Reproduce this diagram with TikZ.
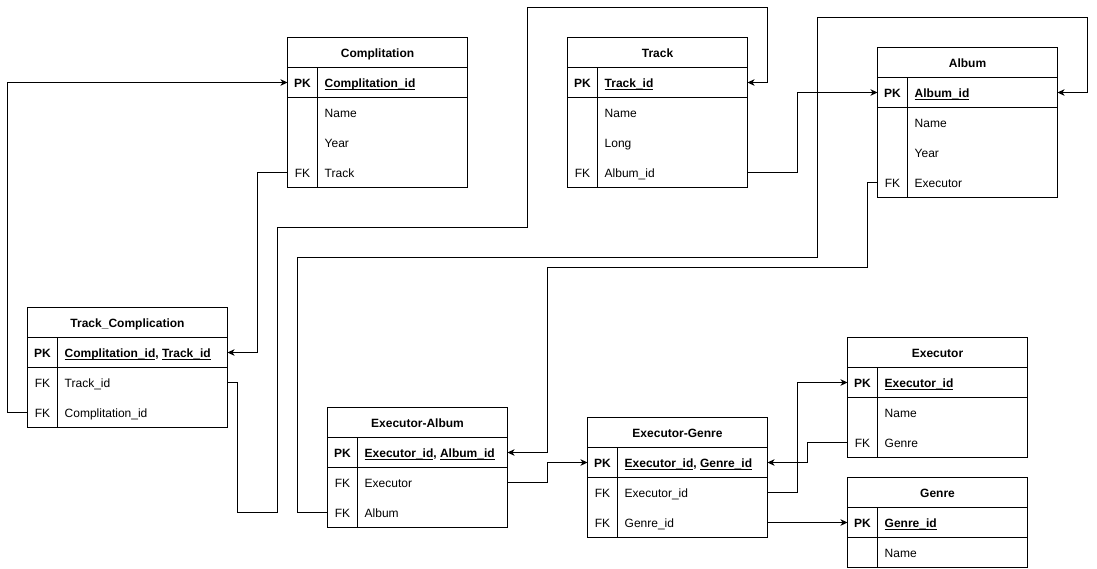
\documentclass[tikz,border=0pt]{standalone}
\usepackage{fontspec}
\setmainfont{Liberation Sans}
\usetikzlibrary{arrows.meta}
\newcommand\ulk[1]{\setbox0=\hbox{#1}\rlap{\rule[-2.2pt]{\wd0}{0.8pt}}\box0}
\tikzset{
  tbl/.style={draw, line width=1pt, fill=white},
  sep/.style={draw, line width=1pt},
  rowbox/.style={minimum height=30pt, inner sep=0pt, outer sep=0pt, anchor=north west},
  txt/.style={inner sep=0pt, text height=8.6pt, text depth=0pt, yshift=-0.8pt, font=\fontsize{12}{14}\selectfont},
  conn/.style={line width=1pt, -{Stealth[length=7pt,width=6.5pt,inset=2pt]}},
}
% #1 name, #2 x, #3 y, #4 width, #5 number of rows, #6 title, #7 rows key/field
\newcommand\ertable[7]{%
  \draw[tbl] (#2,#3) rectangle ++(#4,{30*(#5+1)});
  \node[rowbox, minimum width=#4pt] (#1-0) at (#2,#3) {};
  \node[txt] (#1-t) at (#1-0.center) {\bfseries #6};
  \draw[sep] (#2,{#3+30}) -- ++(#4,0);
  \draw[sep] (#2,{#3+60}) -- ++(#4,0);
  \draw[sep] ({#2+30},{#3+30}) -- ({#2+30},{#3+30*(#5+1)});
  \foreach[count=\i] \k/\f in {#7} {
    \node[rowbox, minimum width=#4pt] (#1-\i) at (#2,{#3+30*\i}) {};
    \node[txt] (#1-k\i) at ([xshift=15pt]#1-\i.west) {\k};
    \node[txt, anchor=west] (#1-f\i) at ([xshift=37pt]#1-\i.west) {\f};
  }
}
\begin{document}
\begin{tikzpicture}[x=1pt, y=-1pt]
\useasboundingbox (0,0) rectangle (1097,568);

\ertable{comp}{287.5}{37.5}{180}{4}{Complitation}{{\bfseries PK}/{\bfseries\ulk{Complitation\_id}}, /Name, /Year, FK/Track}
\ertable{track}{567.5}{37.5}{180}{4}{Track}{{\bfseries PK}/{\bfseries\ulk{Track\_id}}, /Name, /Long, FK/Album\_id}
\ertable{album}{877.5}{47.5}{180}{4}{Album}{{\bfseries PK}/{\bfseries\ulk{Album\_id}}, /Name, /Year, FK/Executor}
\ertable{tc}{27.5}{307.5}{200}{3}{Track\_Complication}{{\bfseries PK}/{\bfseries\ulk{Complitation\_id}, \ulk{Track\_id}}, FK/Track\_id, FK/Complitation\_id}
\ertable{ea}{327.5}{407.5}{180}{3}{Executor-Album}{{\bfseries PK}/{\bfseries\ulk{Executor\_id}, \ulk{Album\_id}}, FK/Executor, FK/Album}
\ertable{eg}{587.5}{417.5}{180}{3}{Executor-Genre}{{\bfseries PK}/{\bfseries\ulk{Executor\_id}, \ulk{Genre\_id}}, FK/Executor\_id, FK/Genre\_id}
\ertable{exec}{847.5}{337.5}{180}{3}{Executor}{{\bfseries PK}/{\bfseries\ulk{Executor\_id}}, /Name, FK/Genre}
\ertable{genre}{847.5}{477.5}{180}{2}{Genre}{{\bfseries PK}/{\bfseries\ulk{Genre\_id}}, /Name}

\draw[conn] (comp-4.west) -- ++(-30,0) |- (tc-1.east);
\draw[conn] (tc-3.west) -- ++(-20,0) |- (comp-1.west);
\draw[conn] (tc-2.east) -- ++(10,0) -- ++(0,130) -- ++(40,0) -- ++(0,-285) -- ++(250,0) -- ++(0,-220) -- ++(240,0) |- (track-1.east);
\draw[conn] (track-4.east) -- ++(50,0) |- (album-1.west);
\draw[conn] (album-4.west) -- ++(-10,0) -- ++(0,85) -- ++(-320,0) |- (ea-1.east);
\draw[conn] (ea-3.west) -- ++(-30,0) -- ++(0,-255) -- ++(520,0) -- ++(0,-240) -- ++(270,0) |- (album-1.east);
\draw[conn] (ea-2.east) -- ++(40,0) |- (eg-1.west);
\draw[conn] (eg-2.east) -- ++(30,0) |- (exec-1.west);
\draw[conn] (exec-3.west) -- ++(-40,0) |- (eg-1.east);
\draw[conn] (eg-3.east) -- (genre-1.west);
\end{tikzpicture}
\end{document}
